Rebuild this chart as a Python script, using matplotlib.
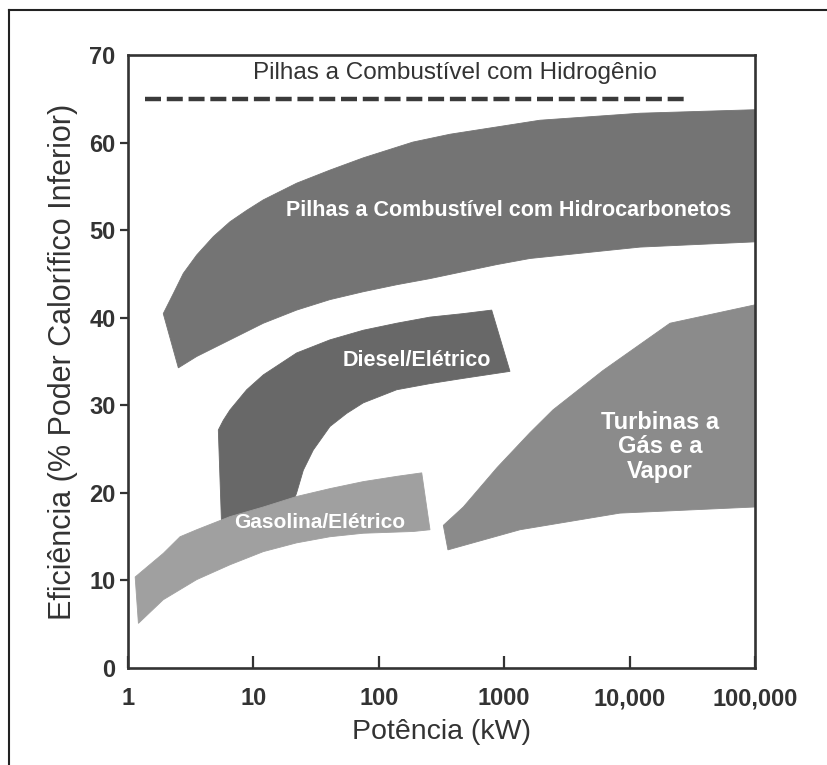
import matplotlib
matplotlib.use("Agg")
import matplotlib.pyplot as plt
from matplotlib.lines import Line2D

# ---------------- data ----------------
# Hydrocarbon fuel cells band
hc_upper_x = [1.91, 2.30, 2.76, 3.53, 4.79, 6.51, 8.84, 12.0, 22.1, 40.8, 75.2,
              187, 370, 1930, 12100, 100000]
hc_upper_y = [40.5, 42.8, 45.1, 47.2, 49.3, 51.0, 52.3, 53.5, 55.4, 56.9, 58.3,
              60.1, 61.0, 62.6, 63.4, 63.8]
hc_lower_x = [2.52, 3.53, 6.51, 12.0, 22.1, 40.8, 75.2, 139, 256, 472, 871,
              1607, 12100, 100000]
hc_lower_y = [34.3, 35.6, 37.5, 39.4, 40.9, 42.1, 43.0, 43.8, 44.5, 45.3, 46.1,
              46.8, 48.1, 48.7]

# Diesel / electric band
de_upper_x = [5.25, 5.75, 6.51, 8.84, 12.0, 22.1, 40.8, 75.2, 139, 256, 472, 795]
de_upper_y = [27.2, 28.3, 29.5, 31.8, 33.5, 36.0, 37.5, 38.6, 39.4, 40.1, 40.5, 40.9]
de_lower_x = [1112, 472, 256, 139, 75.2, 55.5, 40.8, 30.0, 25.0, 22.1, 17.0, 5.6]
de_lower_y = [33.9, 33.1, 32.5, 31.8, 30.3, 29.1, 27.6, 24.9, 22.6, 20.0, 15.5, 15.5]

# Gasoline / electric band
ge_upper_x = [1.14, 1.91, 2.60, 3.53, 6.51, 12.0, 22.1, 40.8, 75.2, 139, 220]
ge_upper_y = [10.4, 13.1, 15.0, 15.8, 17.3, 18.4, 19.6, 20.5, 21.3, 21.9, 22.3]
ge_lower_x = [256, 188, 75.2, 40.8, 22.1, 12.0, 6.51, 3.53, 1.91, 1.21]
ge_lower_y = [15.8, 15.6, 15.4, 15.0, 14.3, 13.3, 11.8, 10.1, 7.8, 5.1]

# Gas and steam turbines band
gt_upper_x = [327, 472, 877, 1607, 2450, 6140, 21000, 100000]
gt_upper_y = [16.3, 18.4, 22.9, 26.9, 29.5, 34.0, 39.4, 41.5]
gt_lower_x = [100000, 8380, 1337, 356]
gt_lower_y = [18.4, 17.7, 15.8, 13.5]

# Hydrogen fuel cells (dashed line)
h2_x = [1.37, 29200]
h2_y = [65, 65]

x_ticks = [1, 10, 100, 1000, 10000, 100000]
x_tick_labels = ["1", "10", "100", "1000", "10,000", "100,000"]
y_ticks = [0, 10, 20, 30, 40, 50, 60, 70]

labels = {
    "h2": "Pilhas a Combustível com Hidrogênio",
    "hc": "Pilhas a Combustível com Hidrocarbonetos",
    "de": "Diesel/Elétrico",
    "ge": "Gasolina/Elétrico",
    "gt": "Turbinas a\nGás e a\nVapor",
}

# ---------------- drawing ----------------
font = ["Liberation Sans", "DejaVu Sans"]

fig = plt.figure(figsize=(8.27, 7.65), dpi=100)
ax = fig.add_axes([0.1548, 0.1268, 0.9129 - 0.1548, 0.9275 - 0.1268])
ax.set_xscale("log")
ax.set_xlim(1, 100000)
ax.set_ylim(0, 70)

def band(ux, uy, lx, ly, color):
    xs = list(ux) + list(lx)
    ys = list(uy) + list(ly)
    ax.fill(xs, ys, color=color, lw=0.6, ec=color, zorder=2)

band(hc_upper_x, hc_upper_y, hc_lower_x[::-1], hc_lower_y[::-1], "#747474")
band(de_upper_x, de_upper_y, de_lower_x, de_lower_y, "#686868")
band(ge_upper_x, ge_upper_y, ge_lower_x, ge_lower_y, "#a0a0a0")
band(gt_upper_x, gt_upper_y, gt_lower_x, gt_lower_y, "#8b8b8b")

ax.plot(h2_x, h2_y, color="#3a3a3a", lw=3.2, dashes=(3.6, 1.3),
        solid_capstyle="butt", dash_capstyle="butt", zorder=3)

ax.text(405, 68.0, labels["h2"], ha="center", va="center", fontsize=17.5,
        family=font, color="#333333")
ax.text(1090, 52.3, labels["hc"], ha="center", va="center", fontsize=15.5,
        family=font, fontweight="bold", color="white", zorder=4)
ax.text(202, 35.1, labels["de"], ha="center", va="center", fontsize=15.5,
        family=font, fontweight="bold", color="white", zorder=4)
ax.text(34, 16.6, labels["ge"], ha="center", va="center", fontsize=15,
        family=font, fontweight="bold", color="white", zorder=4)
ax.text(17500, 25.3, labels["gt"], ha="center", va="center", fontsize=17,
        family=font, fontweight="bold", color="white", linespacing=1.08,
        zorder=4)

for s in ax.spines.values():
    s.set_linewidth(1.9)
    s.set_color("#333333")
    s.set_zorder(5)

ax.set_xticks(x_ticks)
ax.set_xticklabels(x_tick_labels, family=font, fontweight="bold",
                   fontsize=17, color="#333333")
ax.xaxis.set_minor_locator(matplotlib.ticker.NullLocator())
ax.tick_params(axis="x", direction="in", length=9, width=1.6,
               color="#333333", pad=14)
ax.set_yticks(y_ticks)
ax.set_yticklabels([str(v) for v in y_ticks], family=font,
                   fontweight="bold", fontsize=17, color="#333333")
ax.tick_params(axis="y", direction="out", length=6, width=1.6,
               color="#333333", pad=3)
yt = ax.yaxis.get_major_ticks()
yt[0].tick1line.set_visible(False)
yt[-1].tick1line.set_visible(False)

ax.set_xlabel("Potência (kW)", family=font, fontsize=20.5, color="#333333",
              labelpad=6)
ax.set_ylabel("Eficiência (% Poder Calorífico Inferior)", family=font,
              fontsize=22, color="#333333", labelpad=8)

# page border of the scanned figure (left and top)
fig.add_artist(Line2D([0.011, 0.011], [0.0, 0.987], transform=fig.transFigure,
                      color="#222222", lw=1.5))
fig.add_artist(Line2D([0.011, 1.0], [0.987, 0.987], transform=fig.transFigure,
                      color="#222222", lw=1.5))

fig.savefig("out.png", dpi=100, facecolor="white")
